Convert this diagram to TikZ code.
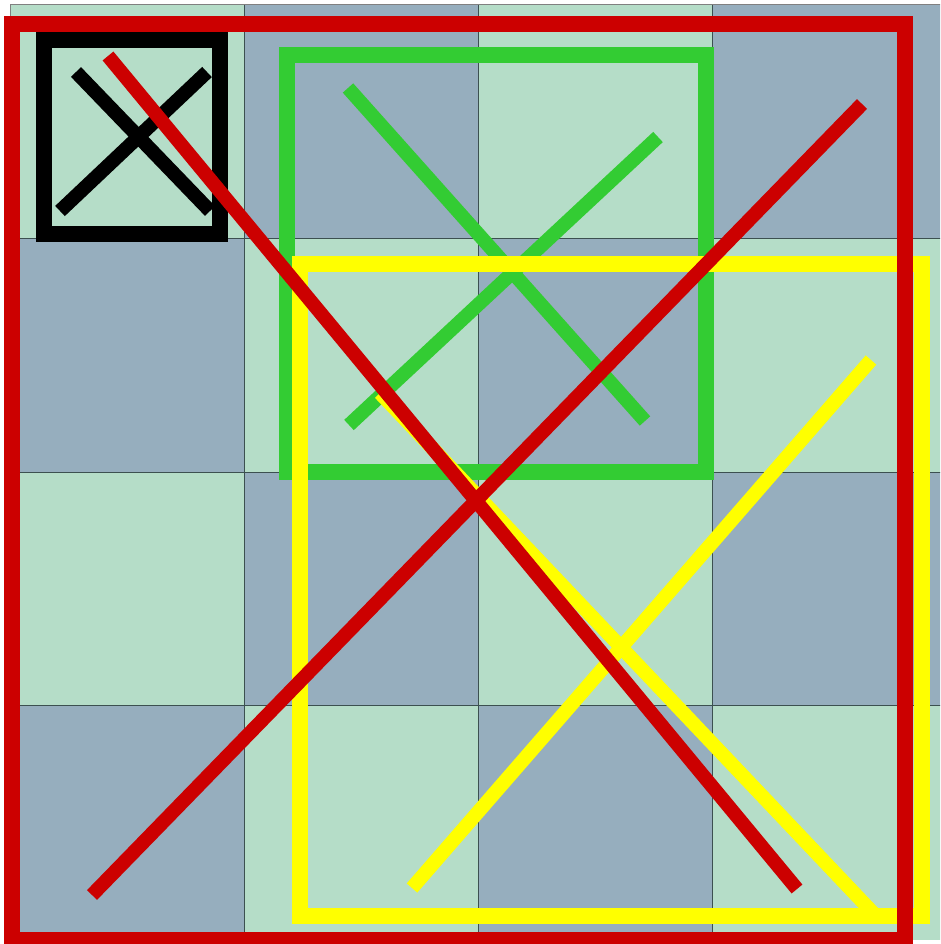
\documentclass[tikz,border=0pt]{standalone}
\definecolor{cellA}{RGB}{181,221,200}
\definecolor{cellB}{RGB}{150,174,190}
\definecolor{redc}{RGB}{204,0,0}
\definecolor{greenc}{RGB}{51,204,51}
\definecolor{yellowc}{RGB}{255,255,0}
\definecolor{gridc}{RGB}{60,80,80}
\tikzset{
  rectline/.style={line width=16pt},
  crossline/.style={line width=14pt},
}
\begin{document}
\begin{tikzpicture}[x=1pt,y=-1pt]
\useasboundingbox (0,0) rectangle (940,944);
\clip (0,0) rectangle (940,944);
% checkerboard
\foreach \i in {0,1,2,3}{
  \foreach \j in {0,1,2,3}{
    \pgfmathtruncatemacro{\cellparity}{mod(\i+\j,2)}
    \ifnum\cellparity=0
      \fill[cellA] (10+234*\i,4.7+233.7*\j) rectangle (10+234*\i+234,4.7+233.7*\j+233.7);
    \else
      \fill[cellB] (10+234*\i,4.7+233.7*\j) rectangle (10+234*\i+234,4.7+233.7*\j+233.7);
    \fi
  }
}
\foreach \i in {1,2,3}{
  \draw[gridc, line width=0.9pt] (10+234*\i,4.7) -- (10+234*\i,940);
  \draw[gridc, line width=0.9pt] (10,4.7+233.7*\i) -- (946,4.7+233.7*\i);
}
\draw[gray, line width=0.9pt] (10,940) -- (10,4.7) -- (946,4.7);
% black
\draw[rectline, black] (44,40) rectangle (220,234);
\draw[crossline, black] (76,72) -- (210,211);
\draw[crossline, black] (60,211) -- (207,72);
% green
\draw[rectline, greenc] (287,55.5) rectangle (705.5,472);
\draw[crossline, greenc] (348,88) -- (645,421);
\draw[crossline, greenc] (349,425) -- (658,137);
% yellow
\draw[rectline, yellowc] (300,264) rectangle (922,916);
\draw[crossline, yellowc] (380,393) -- (876,916);
\draw[crossline, yellowc] (412,888) -- (871,360);
% red
\draw[rectline, redc] (12,24) rectangle (905,940);
\draw[crossline, redc] (108,56) -- (797,889);
\draw[crossline, redc] (92,895) -- (862,104);
\end{tikzpicture}
\end{document}
